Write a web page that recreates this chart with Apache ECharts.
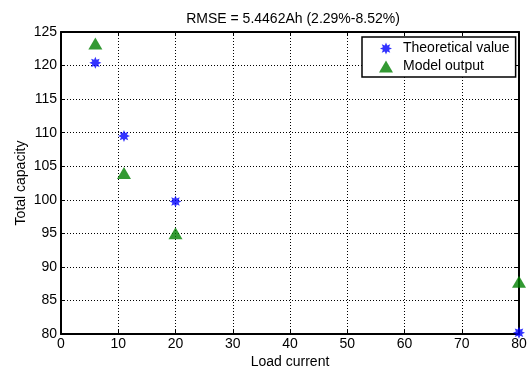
<!DOCTYPE html>
<html>
<head>
<meta charset="utf-8">
<script src="https://cdn.jsdelivr.net/npm/echarts@6/dist/echarts.min.js"></script>
<style>html,body{margin:0;padding:0;background:#fff}#c{width:529px;height:371px}</style>
</head>
<body>
<div id="c"></div>
<script>
var loadCurrent = [6, 11, 20, 80];
var theoretical = [120.4, 109.5, 99.75, 80.2];
var modelOutput = [123.3, 104.0, 95.0, 87.8];
var titleText = 'RMSE = 5.4462Ah (2.29%-8.52%)';
var seriesNames = ['Theoretical value', 'Model output'];

var starPath = 'path://M20 10 L15.08 12.10 L17.07 17.07 L12.10 15.08 L10 20 L7.90 15.08 L2.93 17.07 L4.92 12.10 L0 10 L4.92 7.90 L2.93 2.93 L7.90 4.92 L10 0 L12.10 4.92 L17.07 2.93 L15.08 7.90 Z';
function pairs(xs, ys){ return xs.map(function(x,i){ return [x, ys[i]]; }); }
var font = 'Liberation Sans, Arial, sans-serif';
var chart = echarts.init(document.getElementById('c'), null, {renderer:'canvas'});
var axisLine = {show:true, onZero:false, lineStyle:{color:'#000', width:2}};
var tick = {show:true, inside:true, length:4, lineStyle:{color:'#000', width:1}};
chart.setOption({
  animation:false,
  backgroundColor:'#fff',
  title:{text:titleText, left:288, textAlign:'center', top:7,
    textStyle:{fontFamily:font, fontSize:14, fontWeight:'normal', color:'#000'}},
  legend:{orient:'vertical', left:362, top:37,
    padding:[4, 6, 3, 17], itemGap:3, itemWidth:14, itemHeight:12,
    backgroundColor:'#fff', borderColor:'#000', borderWidth:1.5,
    textStyle:{fontFamily:font, fontSize:14, color:'#000', lineHeight:15, padding:[0,0,0,5]},
    data:seriesNames},
  grid:{left:61, right:10, top:32, bottom:37, outerBoundsMode:'none', containLabel:false},
  xAxis:[{type:'value', min:0, max:80, interval:10, position:'bottom',
    name:'Load current', nameLocation:'middle', nameGap:21, nameMoveOverlap:false,
    nameTextStyle:{fontFamily:font, fontSize:14, color:'#000'},
    axisLine:axisLine, axisTick:tick,
    axisLabel:{fontFamily:font, fontSize:14, color:'#000', margin:3},
    splitLine:{show:true, lineStyle:{color:'#000', type:[1,2], width:1}}},
   {type:'value', min:0, max:80, interval:10, position:'top',
    axisLine:axisLine, axisTick:tick, axisLabel:{show:false}, splitLine:{show:false}}],
  yAxis:[{type:'value', min:80, max:125, interval:5, position:'left',
    name:'Total capacity', nameLocation:'middle', nameGap:33, nameMoveOverlap:false,
    nameTextStyle:{fontFamily:font, fontSize:14, color:'#000'},
    axisLine:axisLine, axisTick:tick,
    axisLabel:{fontFamily:font, fontSize:14, color:'#000', margin:4},
    splitLine:{show:true, lineStyle:{color:'#000', type:[1,2], width:1}}},
   {type:'value', min:80, max:125, interval:5, position:'right',
    axisLine:axisLine, axisTick:tick, axisLabel:{show:false}, splitLine:{show:false}}],
  series:[
    {name:seriesNames[0], type:'scatter', data:pairs(loadCurrent, theoretical),
     symbol:starPath, symbolSize:12, itemStyle:{color:'#0000ff'}, clip:false, z:5},
    {name:seriesNames[1], type:'scatter', data:pairs(loadCurrent, modelOutput),
     symbol:'triangle', symbolSize:[14,12], itemStyle:{color:'#008000'}, clip:false, z:4}
  ]
});
</script>
</body>
</html>
